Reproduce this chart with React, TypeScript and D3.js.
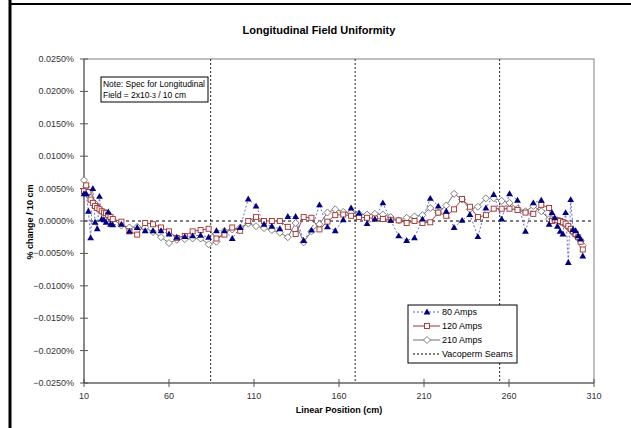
import React from "react";
import * as d3 from "d3";

const width = 631;
const height = 428;

// measurement positions along the magnet (cm)
const positions = [
  10, 11.3, 12.6, 13.9, 15.2, 16.5, 17.8, 19.1, 20.4, 21.7, 23, 24.3, 25.6, 26.9,
  32, 36.7, 41.3, 46, 50.6, 55.3, 60, 64.6, 69.3, 73.9, 78.6, 83.3, 87.9, 92.6,
  97.2, 101.9, 106.6, 111.2, 115.9, 120.5, 125.2, 129.9, 134.5, 139.2, 143.8,
  148.5, 153.2, 157.8, 162.5, 167.1, 171.8, 176.5, 181.1, 185.8, 190.4, 195.1,
  199.8, 204.4, 209.1, 213.7, 218.4, 223.1, 227.7, 232.4, 237, 241.7, 246.4, 251,
  255.7, 260.3, 265, 269.7, 274.3, 279, 283.6,
  285.3, 286.9, 288.5, 290.1, 291.7, 293.3, 294.9, 296.3, 297.7, 299.2, 300.7, 302.1, 303.4,
];

// % change / 10 cm
const amps80 = [
  0.0042, 0.0042, 0.0015, -0.0026, 0.005, -0.0002, -0.0012, 0.0038, 0.0003, 0.0002, -0.0002, 0.0014, -0.0005, -0.0006,
  -0.0005, -0.0016, -0.001, -0.0015, -0.0015, -0.0015, -0.002, -0.0025, -0.0024, -0.0023, -0.0022, -0.0025, -0.0015, -0.0015,
  -0.0027, -0.001, 0.0034, 0.0023, -0.0005, -0.0008, -0.0012, 0.0007, 0.0007, -0.003, -0.0014, 0.0025, -0.0009, -0.0015,
  0.0002, 0.002, 0.0012, -0.0004, 0.0003, 0.0028, 0.0001, -0.0023, -0.003, -0.0026, 0.0003, 0.0035, 0.0023, 0.0015,
  -0.001, 0.0001, 0.001, -0.0024, 0.002, 0.0041, 0.0003, 0.0042, 0.0032, -0.0016, 0.0028, 0.0032, -0.0005,
  0.0013, 0.0005, -0.0008, -0.0016, -0.002, 0.0013, -0.0064, 0.0033, -0.0013, -0.0015, -0.0023, -0.0028, -0.0054,
];

const amps120 = [
  0.0046, 0.0055, 0.0045, 0.0033, 0.0028, 0.0023, 0.002, 0.0018, 0.0015, 0.0013, 0.0012, 0.0009, 0.0006, 0.0003,
  -0.0001, -0.0016, -0.0021, -0.0003, -0.0005, -0.001, -0.0016, -0.0026, -0.0023, -0.0016, -0.0014, -0.0012, -0.0027, -0.0021,
  -0.001, -0.0015, 0.0, 0.0006, 0.0, 0.0, 0.0, -0.0009, -0.002, 0.0006, 0.0005, -0.0013, -0.0001, 0.0009,
  0.001, 0.0008, 0.0006, 0.0005, 0.0004, 0.0003, 0.0002, 0.0001, -0.0003, 0.0, -0.0003, -0.0002, 0.0013, 0.0008,
  0.0018, 0.0034, 0.0022, 0.0006, 0.0009, 0.0019, 0.0019, 0.0019, 0.0017, 0.0013, 0.0011, 0.0025, 0.002,
  0.0, 0.0002, 0.0001, 0.0, -0.0002, -0.0004, -0.0008, -0.0012, -0.0016, -0.002, -0.0025, -0.0032, -0.0044,
];

const amps210 = [
  0.0063, 0.0053, 0.0044, 0.0036, 0.003, 0.0027, 0.0022, 0.0018, 0.0015, 0.0013, 0.0012, 0.0009, 0.0006, 0.0003,
  -0.0007, -0.001, -0.0009, -0.001, -0.0017, -0.0025, -0.0034, -0.0029, -0.0028, -0.0027, -0.0027, -0.0036, -0.0032, -0.0015,
  -0.0013, -0.001, -0.0004, -0.0008, -0.0011, -0.0014, -0.0018, -0.0025, -0.0003, -0.0033, -0.0016, -0.0005, 0.0013, 0.0018,
  0.0014, 0.0013, 0.0011, 0.001, 0.0011, 0.001, 0.0006, 0.0001, 0.0005, 0.0007, 0.0009, 0.002, 0.0013, 0.0024,
  0.0042, 0.0033, 0.0018, 0.0022, 0.0035, 0.0035, 0.0031, 0.0028, 0.0019, 0.0015, 0.0023, 0.0015, 0.0003,
  0.0003, 0.0002, 0.0001, -0.0001, -0.0003, -0.0006, -0.001, -0.0014, -0.0018, -0.0022, -0.0026, -0.003, -0.0038,
];

const seams = [84.5, 169.5, 254.5];
const xTicks = [10, 60, 110, 160, 210, 260, 310];
const yTicks = [0.025, 0.02, 0.015, 0.01, 0.005, 0, -0.005, -0.01, -0.015, -0.02, -0.025];

const font = "'Liberation Sans', Arial, sans-serif";

const x = d3.scaleLinear().domain([10, 310]).range([84, 594]);
const y = d3.scaleLinear().domain([-0.025, 0.025]).range([383, 59]);
const fmt = (v: number) => d3.format(".4f")(v) + "%";

const line = d3
  .line<number>()
  .x((_, i) => x(positions[i]))
  .y((d) => y(d));

const tri = d3.symbol(d3.symbolTriangle, 20)();
const diamond = "M0,-3.5L3.5,0L0,3.5L-3.5,0Z";

const Tri = ({ cx, cy }: { cx: number; cy: number }) => (
  <path d={tri!} transform={`translate(${cx},${cy + 0.5})`} fill="#000080" />
);
const Sq = ({ cx, cy }: { cx: number; cy: number }) => (
  <rect x={cx - 2.5} y={cy - 2.5} width={5} height={5} fill="#fff" stroke="#a0302c" strokeWidth={0.9} />
);
const Dia = ({ cx, cy }: { cx: number; cy: number }) => (
  <path d={diamond} transform={`translate(${cx},${cy})`} fill="#fff" stroke="#707070" strokeWidth={0.9} />
);

export default function App() {
  const legendItems = ["80 Amps", "120 Amps", "210 Amps", "Vacoperm Seams"];
  return (
    <svg
      width={width}
      height={height}
      style={{ position: "absolute", left: 0, top: 0, background: "#fff" }}
      fontFamily={font}
    >
      <rect width={width} height={height} fill="#fff" />
      {/* outer chart border */}
      <line x1={10} y1={0} x2={10} y2={height} stroke="#000" strokeWidth={3} />
      <line x1={9} y1={4} x2={width} y2={4} stroke="#000" strokeWidth={2} />

      <text x={319} y={34} textAnchor="middle" fontSize={11} fontWeight="bold">
        Longitudinal Field Uniformity
      </text>

      {/* plot frame */}
      <rect x={84} y={59} width={510} height={324} fill="none" stroke="#808080" strokeWidth={1} />

      {/* seams */}
      {seams.map((s, i) => (
        <line key={i} x1={x(s)} x2={x(s)} y1={59} y2={383} stroke="#222" strokeWidth={1} strokeDasharray="2,2" />
      ))}
      <line x1={84} x2={594} y1={y(0)} y2={y(0)} stroke="#000" strokeWidth={1} strokeDasharray="3,3" />

      {/* axes */}
      <line x1={84} x2={84} y1={59} y2={383} stroke="#555" />
      <line x1={84} x2={594} y1={383} y2={383} stroke="#555" />
      {yTicks.map((t, i) => (
        <g key={i}>
          <line x1={80} x2={88} y1={y(t)} y2={y(t)} stroke="#555" />
          <text x={74} y={y(t) + 3} textAnchor="end" fontSize={9} fill="#333">
            {fmt(t)}
          </text>
        </g>
      ))}
      {xTicks.map((t, i) => (
        <g key={i}>
          <line x1={x(t)} x2={x(t)} y1={379} y2={387} stroke="#555" />
          <text x={x(t)} y={399} textAnchor="middle" fontSize={9} fill="#333">
            {t}
          </text>
        </g>
      ))}
      <text x={339} y={413} textAnchor="middle" fontSize={9} fontWeight="bold">
        Linear Position (cm)
      </text>
      <text
        transform={`translate(33,222) rotate(-90)`}
        textAnchor="middle"
        fontSize={9}
        fontWeight="bold"
      >
        % change / 10 cm
      </text>

      {/* series */}
      <path d={line(amps210)!} fill="none" stroke="#505050" strokeWidth={0.8} />
      <path d={line(amps120)!} fill="none" stroke="#a0302c" strokeWidth={0.9} />
      <path d={line(amps80)!} fill="none" stroke="#5a5ad6" strokeWidth={0.9} strokeDasharray="2,2" />
      {amps210.map((d, i) => (
        <Dia key={"d" + i} cx={x(positions[i])} cy={y(d)} />
      ))}
      {amps120.map((d, i) => (
        <Sq key={"s" + i} cx={x(positions[i])} cy={y(d)} />
      ))}
      {amps80.map((d, i) => (
        <Tri key={"t" + i} cx={x(positions[i])} cy={y(d)} />
      ))}

      {/* note */}
      <rect x={101} y={77} width={107} height={25} fill="#fff" stroke="#000" strokeWidth={1} />
      <text x={103} y={87} fontSize={8.5} textLength={102} lengthAdjust="spacingAndGlyphs">
        Note: Spec for Longitudinal
      </text>
      <text x={103} y={98} fontSize={8.5}>
        Field = 2x10<tspan fontSize={7}>-3</tspan> / 10 cm
      </text>

      {/* legend */}
      <rect x={408} y={305} width={109} height={58} fill="#fff" stroke="#000" strokeWidth={1} />
      {legendItems.map((name, i) => {
        const ly = 312 + i * 14;
        return (
          <g key={name}>
            {i === 0 && (
              <>
                <line x1={413} x2={440} y1={ly} y2={ly} stroke="#5a5ad6" strokeDasharray="2,2" />
                <Tri cx={427} cy={ly} />
              </>
            )}
            {i === 1 && (
              <>
                <line x1={413} x2={440} y1={ly} y2={ly} stroke="#a0302c" />
                <Sq cx={427} cy={ly} />
              </>
            )}
            {i === 2 && (
              <>
                <line x1={413} x2={440} y1={ly} y2={ly} stroke="#707070" />
                <Dia cx={427} cy={ly} />
              </>
            )}
            {i === 3 && <line x1={413} x2={440} y1={ly} y2={ly} stroke="#000" strokeDasharray="2,2" />}
            <text x={442} y={ly + 3} fontSize={9}>
              {name}
            </text>
          </g>
        );
      })}
    </svg>
  );
}
